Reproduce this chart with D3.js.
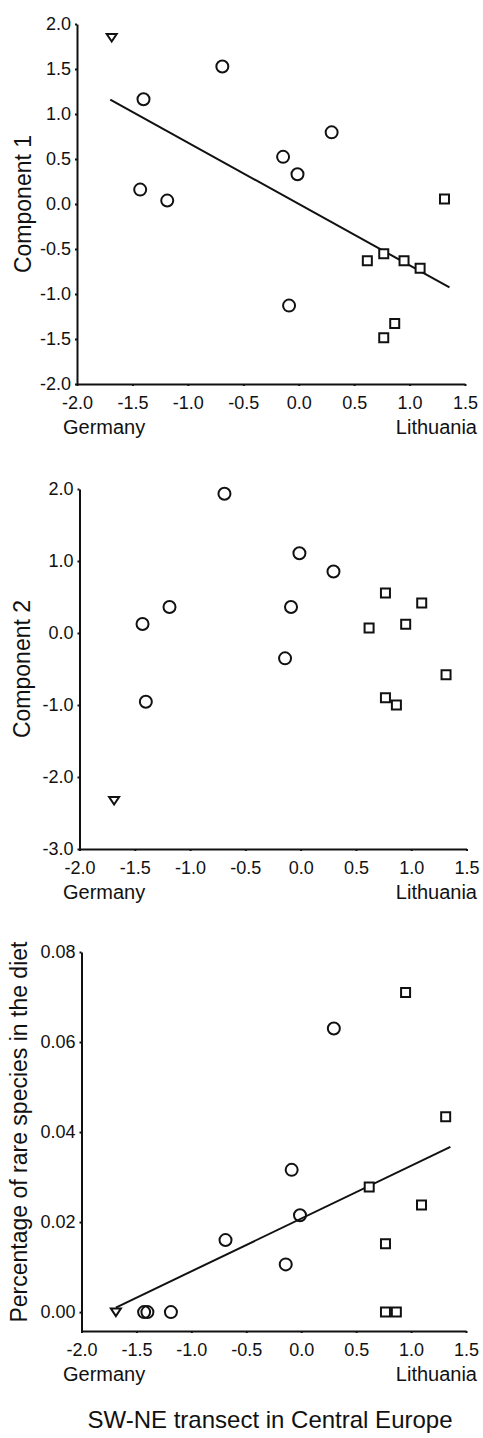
<!DOCTYPE html>
<html>
<head>
<meta charset="utf-8">
<script src="https://cdn.jsdelivr.net/npm/d3@7"></script>
<style>
  body { margin: 0; background: #fff; }
  text { font-family: Arial, "Liberation Sans", sans-serif; fill: #111; }
</style>
</head>
<body>
<div id="chart"></div>
<script>
// sites along the transect, same order in every panel
var siteX = [-1.687, -0.689, -1.40, 0.297, -0.141, -0.011, -1.43, -1.186, -0.087,
             1.315, 0.619, 0.767, 0.950, 1.095, 0.866, 0.767];
var siteShape = ["tri", "circle", "circle", "circle", "circle", "circle", "circle", "circle", "circle",
                 "square", "square", "square", "square", "square", "square", "square"];
var comp1 = [1.85, 1.527, 1.164, 0.796, 0.524, 0.331, 0.16, 0.038, -1.129,
             0.056, -0.631, -0.553, -0.631, -0.713, -1.327, -1.486];
var comp2 = [-2.327, 1.933, -0.954, 0.854, -0.352, 1.108, 0.125, 0.362, 0.362,
             -0.579, 0.070, 0.556, 0.121, 0.417, -1.0, -0.899];
var rare = [0, 0.016, 0, 0.063, 0.0106, 0.0215, 0, 0, 0.0316,
            0.0434, 0.0278, 0.0152, 0.071, 0.0238, 0, 0];

// regression lines (ends)
var fit1X = [-1.70, 1.36], fit1Y = [1.16, -0.927];
var fitRareX = [-1.687, 1.358], fitRareY = [0.001, 0.0367];

var xTicks = [-2.0, -1.5, -1.0, -0.5, 0.0, 0.5, 1.0, 1.5];
var comp1Ticks = [2.0, 1.5, 1.0, 0.5, 0.0, -0.5, -1.0, -1.5, -2.0];
var comp2Ticks = [2.0, 1.0, 0.0, -1.0, -2.0, -3.0];
var rareTicks = [0.00, 0.02, 0.04, 0.06, 0.08];

var W = 483, H = 1438;
var svg = d3.select("#chart").append("svg")
    .attr("width", W)
    .attr("height", H);

var panels = [
  { y: comp1, ticks: comp1Ticks, fmt: function (d) { return d.toFixed(1); },
    domain: [-2, 2], left: 77, right: 465, top: 24, bottom: 384,
    title: "Component 1", titleX: 31, fitX: fit1X, fitY: fit1Y },
  { y: comp2, ticks: comp2Ticks, fmt: function (d) { return d.toFixed(1); },
    domain: [-3, 2], left: 79.5, right: 466.5, top: 489, bottom: 849,
    title: "Component 2", titleX: 30 },
  { y: rare, ticks: rareTicks, fmt: function (d) { return d.toFixed(2); },
    domain: [-0.0042, 0.08], left: 81.5, right: 466, top: 952, bottom: 1331,
    title: "Percentage of rare species in the diet", titleX: 27, fitX: fitRareX, fitY: fitRareY }
];

panels.forEach(function (p) {
  var x = d3.scaleLinear().domain([-2, 1.5]).range([p.left, p.right]);
  var y = d3.scaleLinear().domain(p.domain).range([p.bottom, p.top]);
  var g = svg.append("g");

  // axes
  var xAxis = g.append("g")
      .attr("transform", "translate(0," + p.bottom + ")")
      .call(d3.axisBottom(x).tickValues(xTicks).tickSize(2).tickSizeOuter(0)
        .tickFormat(function (d) { return d.toFixed(1); }));
  var yAxis = g.append("g")
      .attr("transform", "translate(" + p.left + ",0)")
      .call(d3.axisLeft(y).tickValues(p.ticks).tickSize(2).tickSizeOuter(0).tickFormat(p.fmt));

  [xAxis, yAxis].forEach(function (a) {
    a.select(".domain").attr("stroke", "#111").attr("stroke-width", 2);
    a.selectAll(".tick line").attr("stroke", "#111").attr("stroke-width", 2);
    a.selectAll("text").style("font-size", "18px").attr("fill", "#111");
  });
  xAxis.selectAll(".tick text").attr("y", 12).attr("dy", "0.72em");
  yAxis.selectAll(".tick text").attr("x", -6);

  g.append("text").attr("x", 63).attr("y", p.bottom + 50)
      .style("font-size", "20px").text("Germany");
  g.append("text").attr("x", 477).attr("y", p.bottom + 50)
      .attr("text-anchor", "end").style("font-size", "20px").text("Lithuania");

  g.append("text")
      .attr("transform", "translate(" + p.titleX + "," + ((p.top + y(p.ticks[0] === 0 ? 0 : p.domain[0])) / 2) + ") rotate(-90)")
      .attr("text-anchor", "middle")
      .style("font-size", "23px")
      .text(p.title);

  if (p.fitX) {
    g.append("line")
        .attr("x1", x(p.fitX[0])).attr("y1", y(p.fitY[0]))
        .attr("x2", x(p.fitX[1])).attr("y2", y(p.fitY[1]))
        .attr("stroke", "#111").attr("stroke-width", 2);
  }

  g.selectAll(".pt").data(siteX).enter().append("path")
      .attr("class", "pt")
      .attr("transform", function (d, i) { return "translate(" + x(d) + "," + y(p.y[i]) + ")"; })
      .attr("d", function (d, i) {
        if (siteShape[i] === "circle") return "M6,0A6,6 0 1,1 -6,0A6,6 0 1,1 6,0Z";
        if (siteShape[i] === "square") return "M-4.5,-4.5H4.5V4.5H-4.5Z";
        return "M-5,-3.5H5L0,4Z";
      })
      .attr("fill", function (d, i) { return siteShape[i] === "circle" ? "none" : "#fff"; })
      .attr("stroke", "#111")
      .attr("stroke-width", 2);
});

svg.append("text")
    .attr("x", 270).attr("y", 1428)
    .attr("text-anchor", "middle")
    .style("font-size", "24px")
    .text("SW-NE transect in Central Europe");
</script>
</body>
</html>
